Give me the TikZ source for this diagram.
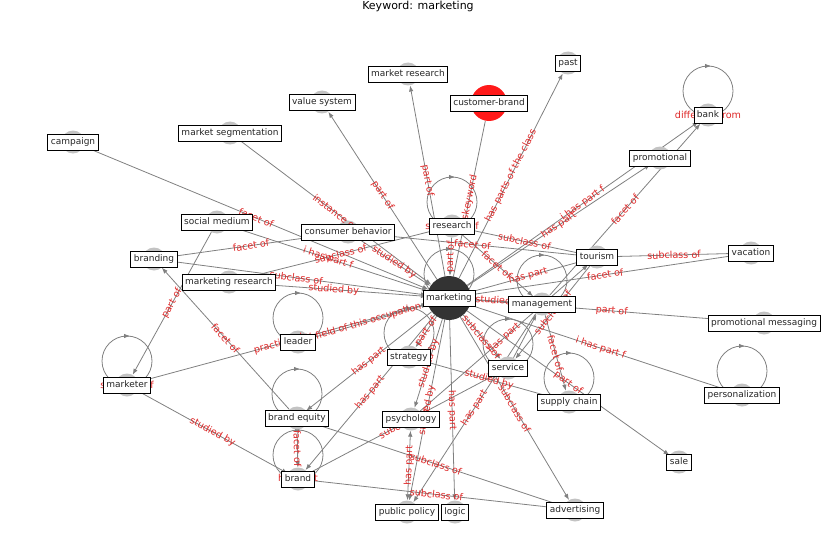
\documentclass[tikz,border=0pt]{standalone}
\usepackage{fontspec}
\setmainfont{DejaVu Sans}
\usetikzlibrary{arrows.meta,calc}
\pgfdeclarelayer{edges}
\pgfdeclarelayer{elabels}
\pgfdeclarelayer{boxes}
\pgfsetlayers{edges,main,elabels,boxes}
\definecolor{edgegray}{RGB}{128,128,128}
\definecolor{nodegray}{RGB}{195,195,195}
\definecolor{lblred}{RGB}{222,40,40}
\definecolor{hubdark}{RGB}{51,51,51}
\definecolor{kwred}{RGB}{255,25,25}
\newcommand\gE[4]{%
  \begin{pgfonlayer}{edges}\draw[#4] (#1) -- (#2);\end{pgfonlayer}%
  \begin{pgfonlayer}{elabels}\path (#1) -- node[elab]{#3} (#2);\end{pgfonlayer}}
\newcommand\gLoop[2]{%
  \begin{pgfonlayer}{edges}
  \draw[edge] ($(#1.center)+(0,-24)$) circle[radius=25pt];
  \draw[arr] ($(#1.center)+(-3,-49)$) -- ($(#1.center)+(3,-49)$);
  \end{pgfonlayer}%
  \begin{pgfonlayer}{elabels}\node[elab] at (#1.center) {#2};\end{pgfonlayer}}
\newcommand\gBox[2]{\begin{pgfonlayer}{boxes}\node[lbox] at (#1.center) {#2};\end{pgfonlayer}}
\begin{document}
\begin{tikzpicture}[x=1pt,y=-1pt,
  vtx/.style={circle,fill=nodegray,minimum size=23pt,inner sep=0pt},
  hub/.style={circle,fill=hubdark,minimum size=44pt,inner sep=0pt},
  kw/.style={circle,fill=kwred,minimum size=36pt,inner sep=0pt},
  lbox/.style={draw=black,fill=white,line width=0.8pt,inner xsep=3pt,inner ysep=3.5pt,
    font=\fontsize{9}{10}\selectfont,text=black!85,text height=7pt,text depth=2pt},
  edge/.style={draw=edgegray,line width=0.8pt},
  arr/.style={edge,-{Latex[length=6pt,width=4.5pt]}},
  arrboth/.style={edge,{Latex[length=6pt,width=4.5pt]}-{Latex[length=6pt,width=4.5pt]}},
  elab/.style={text=lblred,font=\fontsize{9.6}{11}\selectfont,sloped,inner sep=0pt}]
\useasboundingbox (0,0) rectangle (837,559);
\node[font=\fontsize{11}{12}\selectfont] (title) at (418,6) {Keyword: marketing};
% vertices
\node[hub] (mk) at (449,298) {};
\node[vtx] (rs) at (452,226) {};
\node[vtx] (mr) at (408,74) {};
\node[vtx] (vs) at (322,102) {};
\node[kw] (cb) at (489,103) {};
\node[vtx] (past) at (568,63) {};
\node[vtx] (bank) at (708,115) {};
\node[vtx] (prom) at (660,158) {};
\node[vtx] (camp) at (73,142) {};
\node[vtx] (mseg) at (230,133) {};
\node[vtx] (smed) at (217,222) {};
\node[vtx] (cbeh) at (348,232) {};
\node[vtx] (brnd) at (154,259) {};
\node[vtx] (mres) at (229,282) {};
\node[vtx] (tour) at (597,257) {};
\node[vtx] (vac) at (751,253) {};
\node[vtx] (mgmt) at (542,304) {};
\node[vtx] (pmsg) at (764,323) {};
\node[vtx] (lead) at (298,342) {};
\node[vtx] (strat) at (409,357) {};
\node[vtx] (serv) at (508,368) {};
\node[vtx] (mkr) at (127,385) {};
\node[vtx] (sc) at (569,402) {};
\node[vtx] (pers) at (742,395) {};
\node[vtx] (beq) at (297,418) {};
\node[vtx] (psy) at (411,419) {};
\node[vtx] (sale) at (679,462) {};
\node[vtx] (brand) at (298,479) {};
\node[vtx] (pp) at (407,512) {};
\node[vtx] (logic) at (455,512) {};
\node[vtx] (adv) at (575,510) {};
% edges
\gE{camp}{mk}{facet of}{arr}
\gE{mseg}{mk}{instance of}{arr}
\gE{mk}{vs}{part of}{arr}
\gE{mk}{mr}{part of}{arr}
\gE{cb}{mk}{iskeyword}{edge}
\gE{mk}{past}{has parts of the class}{arr}
\gE{mk}{prom}{has part}{arr}
\gE{mk}{bank}{i has part f}{arr}
\gE{mgmt}{bank}{facet of}{arr}
\gE{rs}{tour}{subclass of}{arr}
\gE{mk}{tour}{has part}{arr}
\gE{cbeh}{tour}{facet of}{arr}
\gE{rs}{mgmt}{facet of}{arr}
\gE{mk}{mgmt}{studied by}{arr}
\gE{tour}{vac}{subclass of}{arr}
\gE{mk}{vac}{facet of}{arr}
\gE{mk}{pmsg}{part of}{arr}
\gE{mk}{pers}{i has part f}{arr}
\gE{mk}{sale}{part of}{arr}
\gE{mgmt}{sc}{facet of}{arr}
\gE{tour}{serv}{subclass of}{arr}
\gE{mk}{adv}{subclass of}{arr}
\gE{mgmt}{pp}{has part}{arr}
\gE{mk}{logic}{has part}{arr}
\gE{mk}{pp}{studied by}{arr}
\gE{mk}{psy}{studied by}{arr}
\gE{mk}{serv}{subclass of}{arr}
\gE{psy}{tour}{has part}{arr}
\gE{smed}{mk}{i has part f}{arr}
\gE{mres}{rs}{subclass of}{arr}
\gE{brnd}{cbeh}{facet of}{arr}
\gE{brnd}{mk}{subclass of}{arr}
\gE{mres}{mk}{studied by}{arr}
\gE{cbeh}{mk}{studied by}{arr}
\gE{smed}{mkr}{part of}{arr}
\gE{beq}{brnd}{facet of}{arr}
\gE{mkr}{mk}{practiced by}{arr}
\gE{lead}{mk}{field of this occupation}{arr}
\gE{mkr}{brand}{studied by}{arr}
\gE{beq}{brand}{facet of}{arr}
\gE{mk}{beq}{has part}{arr}
\gE{mk}{brand}{has part}{arr}
\gE{brand}{serv}{subclass of}{arr}
\gE{beq}{adv}{subclass of}{arr}
\gE{brand}{adv}{subclass of}{arr}
\gE{psy}{pp}{has part}{arrboth}
\gE{strat}{sc}{studied by}{arr}
\gE{rs}{mk}{part of}{arr}
\gE{mk}{strat}{part of}{arr}
\gE{serv}{mgmt}{}{arr}
% self loops
\gLoop{rs}{subclass of}
\gLoop{mk}{}
\gLoop{mgmt}{}
\gLoop{strat}{}
\gLoop{serv}{}
\gLoop{sc}{}
\gLoop{lead}{}
\gLoop{mkr}{subclass of}
\gLoop{beq}{}
\gLoop{brand}{has part}
\gLoop{bank}{different from}
\gLoop{pers}{}
% label boxes
\gBox{mk}{marketing}
\gBox{rs}{research}
\gBox{mr}{market research}
\gBox{vs}{value system}
\gBox{cb}{customer-brand}
\gBox{past}{past}
\gBox{bank}{bank}
\gBox{prom}{promotional}
\gBox{camp}{campaign}
\gBox{mseg}{market segmentation}
\gBox{smed}{social medium}
\gBox{cbeh}{consumer behavior}
\gBox{brnd}{branding}
\gBox{mres}{marketing research}
\gBox{tour}{tourism}
\gBox{vac}{vacation}
\gBox{mgmt}{management}
\gBox{pmsg}{promotional messaging}
\gBox{lead}{leader}
\gBox{strat}{strategy}
\gBox{serv}{service}
\gBox{mkr}{marketer}
\gBox{sc}{supply chain}
\gBox{pers}{personalization}
\gBox{beq}{brand equity}
\gBox{psy}{psychology}
\gBox{sale}{sale}
\gBox{brand}{brand}
\gBox{pp}{public policy}
\gBox{logic}{logic}
\gBox{adv}{advertising}
\end{tikzpicture}
\end{document}
